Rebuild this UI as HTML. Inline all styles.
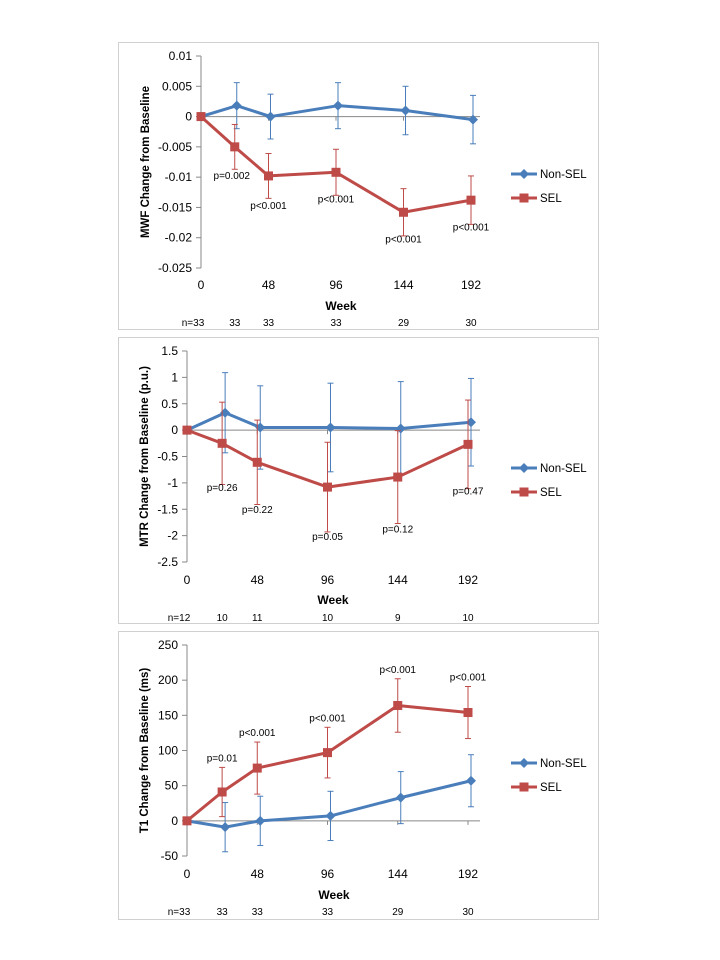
<!DOCTYPE html>
<html><head><meta charset="utf-8">
<style>
body{margin:0;background:#fff;width:720px;height:960px;overflow:hidden;font-family:"Liberation Sans",sans-serif;}
svg{position:absolute;left:0;top:0}
text{font-family:"Liberation Sans",sans-serif;fill:#000}
</style></head>
<body>
<svg id="c" width="720" height="960"></svg>
<script>
const weeks = [0, 24, 48, 96, 144, 192];
const xTicks = [0, 48, 96, 144, 192];
// Panel 1: MWF
const mwfNon = [0, 0.0018, 0, 0.0018, 0.001, -0.0005];
const mwfNonErr = [0, 0.0038, 0.0037, 0.0038, 0.004, 0.004];
const mwfSel = [0, -0.005, -0.0098, -0.0092, -0.0158, -0.0138];
const mwfSelErr = [0, 0.0037, 0.0037, 0.0038, 0.0039, 0.004];
const mwfP = ["", "p=0.002", "p<0.001", "p<0.001", "p<0.001", "p<0.001"];
const mwfN = ["n=33", "33", "33", "33", "29", "30"];
const mwfTicks = [0.01, 0.005, 0, -0.005, -0.01, -0.015, -0.02, -0.025];
// Panel 2: MTR
const mtrNon = [0, 0.33, 0.05, 0.05, 0.03, 0.15];
const mtrNonErr = [0, 0.76, 0.79, 0.84, 0.89, 0.83];
const mtrSel = [0, -0.25, -0.61, -1.08, -0.89, -0.27];
const mtrSelErr = [0, 0.78, 0.8, 0.85, 0.88, 0.84];
const mtrP = ["", "p=0.26", "p=0.22", "p=0.05", "p=0.12", "p=0.47"];
const mtrN = ["n=12", "10", "11", "10", "9", "10"];
const mtrTicks = [1.5, 1, 0.5, 0, -0.5, -1, -1.5, -2, -2.5];
// Panel 3: T1
const t1Non = [0, -9, 0, 7, 33, 57];
const t1NonErr = [0, 35, 35, 35, 37, 37];
const t1Sel = [0, 41, 75, 97, 164, 154];
const t1SelErr = [0, 35, 37, 36, 38, 37];
const t1P = ["", "p=0.01", "p<0.001", "p<0.001", "p<0.001", "p<0.001"];
const t1N = ["n=33", "33", "33", "33", "29", "30"];
const t1Ticks = [250, 200, 150, 100, 50, 0, -50];

const svg = document.getElementById('c');
const NS = 'http://www.w3.org/2000/svg';
function mk(tag, attrs, parent, txt){
  const e = document.createElementNS(NS, tag);
  for (const k in attrs) e.setAttribute(k, attrs[k]);
  if (txt !== undefined) e.textContent = txt;
  (parent || svg).appendChild(e);
  return e;
}
const BLUE = '#4a7ebb', RED = '#be4b48';

function panel(cfg){
  const g = mk('g', {});
  
  
  const fr = mk('rect', {x:cfg.fx, y:cfg.fy, width:480, height:cfg.fh, fill:'#fff', stroke:'#d0d0d0', 'stroke-width':1}, g);
  
  
  const ymax = cfg.ticks[0], ymin = cfg.ticks[cfg.ticks.length-1];
  const Y = v => cfg.yTop + (ymax - v) / (ymax - ymin) * (cfg.yBot - cfg.yTop);
  const X = w => cfg.x0 + w / 192 * (cfg.x192 - cfg.x0);
  // y axis
  const ya = mk('line', {x1:cfg.x0, y1:cfg.yTop, x2:cfg.x0, y2:cfg.yBot, stroke:'#888', 'stroke-width':1}, g);
  
  
  cfg.ticks.forEach(t => {
    const y = Y(t);
    mk('line', {x1:cfg.x0-5, y1:y, x2:cfg.x0, y2:y, stroke:'#888'}, g);
    const tl = mk('text', {x:cfg.x0-9, y:y+4, 'text-anchor':'end', 'font-size':12}, g, String(t));
    
    
  });
  // x axis at zero
  const xa = mk('line', {x1:cfg.x0, y1:Y(0), x2:cfg.xEnd, y2:Y(0), stroke:'#888', 'stroke-width':1}, g);
  
  
  xTicks.forEach(w => {
    mk('line', {x1:X(w), y1:Y(0), x2:X(w), y2:Y(0)+4, stroke:'#888'}, g);
    const tl = mk('text', {x:X(w), y:cfg.tickY, 'text-anchor':'middle', 'font-size':12}, g, String(w));
    
    
  });
  const xt = mk('text', {x:cfg.weekX, y:cfg.weekY, 'text-anchor':'middle', 'font-size':12, 'font-weight':'bold'}, g, 'Week');
  
  
  const cy = (cfg.yTop + cfg.yBot) / 2;
  const yt = mk('text', {x:cfg.titleX, y:cy, 'text-anchor':'middle', 'font-size':11.5, 'font-weight':'bold', transform:`rotate(-90 ${cfg.titleX} ${cy})`}, g, cfg.title);
  
  
  // n labels
  cfg.n.forEach((s, i) => {
    const nl = mk('text', {x:X(weeks[i]) + (i===0 ? -8 : 0), y:cfg.nY, 'text-anchor':'middle', 'font-size':10}, g, s);
    
    
  });
  function series(vals, errs, color, off, marker, nm){
    const sg = mk('g', {}, g);
    
    
    vals.forEach((v, i) => {
      if (!errs[i]) return;
      const x = X(weeks[i]) + off;
      mk('line', {x1:x, y1:Y(v+errs[i]), x2:x, y2:Y(v-errs[i]), stroke:color, 'stroke-width':1}, sg);
      mk('line', {x1:x-3, y1:Y(v+errs[i]), x2:x+3, y2:Y(v+errs[i]), stroke:color, 'stroke-width':1}, sg);
      mk('line', {x1:x-3, y1:Y(v-errs[i]), x2:x+3, y2:Y(v-errs[i]), stroke:color, 'stroke-width':1}, sg);
    });
    const pts = vals.map((v, i) => (X(weeks[i]) + (i ? off : 0)) + ',' + Y(v)).join(' ');
    const pl = mk('polyline', {points:pts, fill:'none', stroke:color, 'stroke-width':3, 'stroke-linejoin':'round'}, sg);
    
    
    vals.forEach((v, i) => {
      const x = X(weeks[i]) + (i ? off : 0), y = Y(v);
      let m;
      if (marker === 'd') m = mk('polygon', {points:`${x},${y-5} ${x+5},${y} ${x},${y+5} ${x-5},${y}`, fill:color}, sg);
      else m = mk('rect', {x:x-4.5, y:y-4.5, width:9, height:9, fill:color}, sg);
      
      
    });
  }
  series(cfg.non, cfg.nonErr, BLUE, cfg.off, 'd', 'non-sel-series');
  series(cfg.sel, cfg.selErr, RED, 0, 's', 'sel-series');
  // p labels
  cfg.p.forEach((s, i) => {
    if (!s) return;
    const x = X(weeks[i]) + cfg.pDx[i];
    const y = cfg.pAbove ? Y(cfg.sel[i] + cfg.selErr[i]) - 6 : Y(cfg.pBase[i]);
    const pl = mk('text', {x:x, y:y, 'text-anchor':'middle', 'font-size':10}, g, s);
    
    
  });
  // legend
  const lg = mk('g', {}, g);
  
  
  [[BLUE, 'Non-SEL', 'd', cfg.legY], [RED, 'SEL', 's', cfg.legY+24]].forEach(([c, t, m, y]) => {
    mk('line', {x1:511, y1:y, x2:537, y2:y, stroke:c, 'stroke-width':3}, lg);
    if (m === 'd') mk('polygon', {points:`524,${y-5} 529,${y} 524,${y+5} 519,${y}`, fill:c}, lg);
    else mk('rect', {x:519.5, y:y-4.5, width:9, height:9, fill:c}, lg);
    const lt = mk('text', {x:540, y:y+4, 'font-size':11.5}, lg, t);
    
    
  });
}

panel({name:'mwf-chart', fx:118.5, fy:42.5, fh:287, x0:201, x192:471, xEnd:480, yTop:56, yBot:268,
  ticks:mwfTicks, tickY:289, weekX:341, weekY:310, titleX:149, title:'MWF Change from Baseline',
  nY:326, n:mwfN, non:mwfNon, nonErr:mwfNonErr, sel:mwfSel, selErr:mwfSelErr, off:2,
  p:mwfP, pAbove:false, pBase:[0,-0.0103,-0.0153,-0.0142,-0.0208,-0.0188], pDx:[0,-3,0,0,0,0], legY:174});
panel({name:'mtr-chart', fx:118.5, fy:337.5, fh:286, x0:187, x192:468, xEnd:480, yTop:351, yBot:562,
  ticks:mtrTicks, tickY:584, weekX:333, weekY:604, titleX:148, title:'MTR Change from Baseline (p.u.)',
  nY:621, n:mtrN, non:mtrNon, nonErr:mtrNonErr, sel:mtrSel, selErr:mtrSelErr, off:3,
  p:mtrP, pAbove:false, pBase:[0,-1.15,-1.57,-2.08,-1.94,-1.22], pDx:[0,0,0,0,0,0], legY:468});
panel({name:'t1-chart', fx:118.5, fy:631.5, fh:288, x0:187, x192:468, xEnd:480, yTop:645, yBot:856,
  ticks:t1Ticks, tickY:878, weekX:334, weekY:899, titleX:148, title:'T1 Change from Baseline (ms)',
  nY:915, n:t1N, non:t1Non, nonErr:t1NonErr, sel:t1Sel, selErr:t1SelErr, off:3,
  p:t1P, pAbove:true, pBase:[], pDx:[0,0,0,0,0,0], legY:763});
</script>
</body></html>
